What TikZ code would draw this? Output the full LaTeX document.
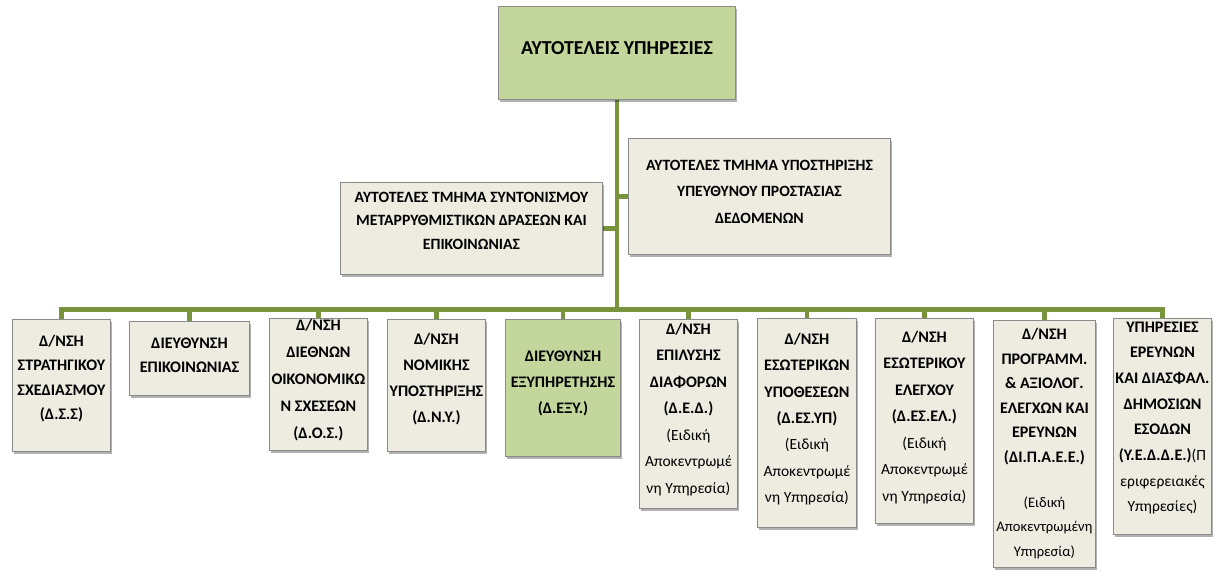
\documentclass[tikz,border=0pt]{standalone}
\usepackage{fontspec}
\setmainfont{Carlito}
\usetikzlibrary{shadows,backgrounds}
\definecolor{beige}{HTML}{EEECE1}
\definecolor{lgreen}{HTML}{C3D69B}
\definecolor{olive}{HTML}{77933C}
\definecolor{edge}{HTML}{8A8A8A}
\tikzset{
  box/.style={draw=edge, line width=0.9pt, fill=beige, inner sep=0pt, anchor=north west,
    drop shadow={shadow xshift=1.5pt, shadow yshift=-3pt, fill=black, opacity=0.3}},
  gbox/.style={box, fill=lgreen},
  txt/.style={inner sep=0pt, align=center, anchor=center},
  conn/.style={draw=olive, line width=4.5pt, line cap=rect, line join=miter},
}
\newcommand{\bx}[6]{\node[#1, minimum width={(#5-#3)*1pt}, minimum height={(#6-#4)*1pt}] (#2) at (#3,#4) {};}
\newcommand{\B}[1]{\bfseries\fontsize{16.1}{#1}\selectfont}
\newcommand{\R}[1]{\mdseries\fontsize{15.5}{#1}\selectfont}
\begin{document}
\begin{tikzpicture}[x=1pt,y=-1pt]
\clip (0,0) rectangle (1219,571);
% boxes
\bx{gbox}{top}{498}{6}{735}{99}
\bx{box}{mL}{340}{182}{602}{274}
\bx{box}{mR}{628}{138}{890}{254}
\bx{box}{b1}{12}{319}{110}{451}
\bx{box}{b2}{129}{321}{249}{395}
\bx{box}{b3}{269}{318}{367}{450}
\bx{box}{b4}{387}{319}{485}{451}
\bx{gbox}{b5}{505}{319}{620}{456}
\bx{box}{b6}{639}{319}{737}{508}
\bx{box}{b7}{757}{318}{856}{527}
\bx{box}{b8}{875}{318}{973}{523}
\bx{box}{b9}{993}{320}{1095}{567}
\bx{box}{b10}{1113}{318}{1211}{534}
% texts
\node[txt, font=\bfseries\fontsize{19.8}{24}\selectfont] (ttop) at (top.center |- 0,48) {ΑΥΤΟΤΕΛΕΙΣ ΥΠΗΡΕΣΙΕΣ};
\node[txt, font=\bfseries\fontsize{15.7}{23.5}\selectfont] (tmL) at (mL.center |- 0,220.5) {ΑΥΤΟΤΕΛΕΣ ΤΜΗΜΑ ΣΥΝΤΟΝΙΣΜΟΥ\\ΜΕΤΑΡΡΥΘΜΙΣΤΙΚΩΝ ΔΡΑΣΕΩΝ ΚΑΙ\\ΕΠΙΚΟΙΝΩΝΙΑΣ};
\node[txt, font=\bfseries\fontsize{15.7}{26.5}\selectfont] (tmR) at (mR.center |- 0,191.5) {ΑΥΤΟΤΕΛΕΣ ΤΜΗΜΑ ΥΠΟΣΤΗΡΙΞΗΣ\\ΥΠΕΥΘΥΝΟΥ ΠΡΟΣΤΑΣΙΑΣ\\ΔΕΔΟΜΕΝΩΝ};
\node[txt, font=\B{24.5}] (t1) at (b1.center |- 0,378.5) {Δ/ΝΣΗ\\ΣΤΡΑΤΗΓΙΚΟΥ\\ΣΧΕΔΙΑΣΜΟΥ\\(Δ.Σ.Σ)};
\node[txt, font=\B{24}] (t2) at (b2.center |- 0,355) {ΔΙΕΥΘΥΝΣΗ\\ΕΠΙΚΟΙΝΩΝΙΑΣ};
\node[txt, font=\B{27}] (t3) at (b3.center |- 0,380) {Δ/ΝΣΗ\\ΔΙΕΘΝΩΝ\\ΟΙΚΟΝΟΜΙΚΩ\\Ν ΣΧΕΣΕΩΝ\\(Δ.Ο.Σ.)};
\node[txt, font=\B{26}] (t4) at (b4.center |- 0,379) {Δ/ΝΣΗ\\ΝΟΜΙΚΗΣ\\ΥΠΟΣΤΗΡΙΞΗΣ\\(Δ.Ν.Υ.)};
\node[txt, font=\B{26}] (t5) at (b5.center |- 0,383) {ΔΙΕΥΘΥΝΣΗ\\ΕΞΥΠΗΡΕΤΗΣΗΣ\\(Δ.ΕΞΥ.)};
\node[txt, font=\R{26.5}] (t6) at (b6.center |- 0,409.5) {\B{26.5}Δ/ΝΣΗ\\\B{26.5}ΕΠΙΛΥΣΗΣ\\\B{26.5}ΔΙΑΦΟΡΩΝ\\\B{26.5}(Δ.Ε.Δ.)\\(Ειδική\\Αποκεντρωμέ\\νη Υπηρεσία)};
\node[txt, font=\R{26.3}] (t7) at (b7.center |- 0,419) {\B{26.3}Δ/ΝΣΗ\\\B{26.3}ΕΣΩΤΕΡΙΚΩΝ\\\B{26.3}ΥΠΟΘΕΣΕΩΝ\\\B{26.3}(Δ.ΕΣ.ΥΠ)\\(Ειδική\\Αποκεντρωμέ\\νη Υπηρεσία)};
\node[txt, font=\R{26.5}] (t8) at (b8.center |- 0,417.5) {\B{26.5}Δ/ΝΣΗ\\\B{26.5}ΕΣΩΤΕΡΙΚΟΥ\\\B{26.5}ΕΛΕΓΧΟΥ\\\B{26.5}(Δ.ΕΣ.ΕΛ.)\\(Ειδική\\Αποκεντρωμέ\\νη Υπηρεσία)};
\node[txt, font=\B{24.6}] (t9) at (b9.center |- 0,396.5) {Δ/ΝΣΗ\\ΠΡΟΓΡΑΜΜ.\\\& ΑΞΙΟΛΟΓ.\\ΕΛΕΓΧΩΝ ΚΑΙ\\ΕΡΕΥΝΩΝ\\(ΔΙ.Π.Α.Ε.Ε.)};
\node[txt, font=\fontsize{14.6}{24.5}\selectfont] (t9s) at (b9.center |- 0,527.5) {(Ειδική\\Αποκεντρωμένη\\Υπηρεσία)};
\node[txt, font=\R{25.7}] (t10) at (b10.center |- 0,418) {\B{25.7}ΥΠΗΡΕΣΙΕΣ\\\B{25.7}ΕΡΕΥΝΩΝ\\\B{25.7}ΚΑΙ ΔΙΑΣΦΑΛ.\\\B{25.7}ΔΗΜΟΣΙΩΝ\\\B{25.7}ΕΣΟΔΩΝ\\{\B{25.7}(Υ.Ε.Δ.Δ.Ε.)}(Π\\εριφερειακές\\Υπηρεσίες)};
% connectors
\coordinate (bus) at (617,309.5);
\begin{scope}[on background layer]
\fill[white] (0,0) rectangle (1219,571);
\draw[conn] (top.south) -- (top.south |- bus);
\draw[conn] (mR.west) -- (mR.west -| top.south);
\draw[conn] (mL.east) -- (mL.east -| top.south);
\draw[conn] (b1.north) -- (b1.north |- bus) -- (b10.north |- bus) -- (b10.north);
\foreach \b in {b2,b3,b4,b5,b6,b7,b8,b9}{
  \draw[conn, line cap=butt] (\b.north) -- (\b.north |- bus);
}
\end{scope}
\end{tikzpicture}
\end{document}
